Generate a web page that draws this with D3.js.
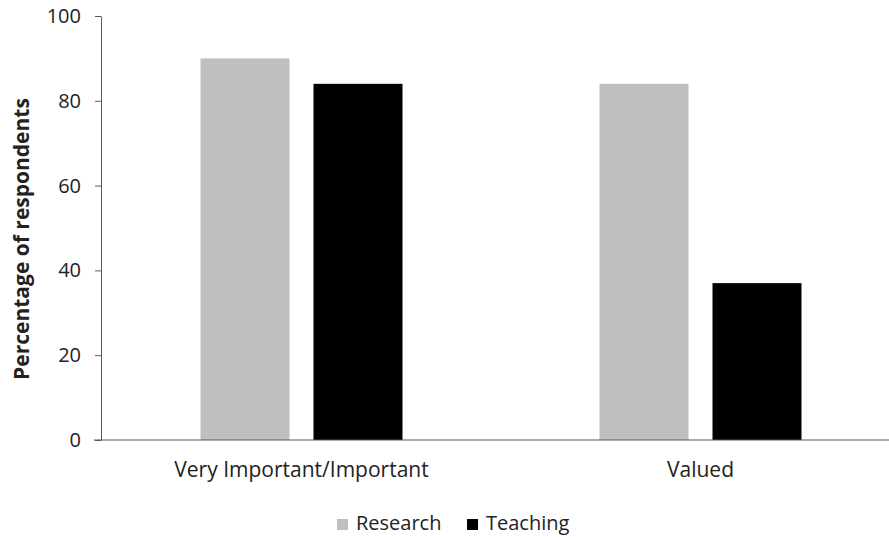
<!DOCTYPE html>
<html>
<head>
  <title>Research vs Teaching</title>
  <style>
    body { margin: 0; background: #fff; }
    svg text { font-family: "Open Sans", sans-serif; fill: #222; }
  </style>
  <script src="https://d3js.org/d3.v7.min.js"></script>
</head>
<body>
  <div id="chart"></div>
  <script>
    // chart data
    var categories = ["Very Important/Important", "Valued"];
    var seriesNames = ["Research", "Teaching"];
    var research = [90, 84];
    var teaching = [84, 37];
    var yTicks = [0, 20, 40, 60, 80, 100];
    var colors = ["#bfbfbf", "#000000"];

    var width = 889, height = 537;
    var svg = d3.select("#chart").append("svg")
      .attr("width", width)
      .attr("height", height);

    var x0 = d3.scaleBand().domain(categories).range([102, 900]).paddingInner(0).paddingOuter(0);
    var x1 = d3.scaleBand().domain(seriesNames).range([-101, 101]).paddingInner(24 / 113).paddingOuter(0);
    var y = d3.scaleLinear().domain([0, 100]).range([440, 16]);

    // y axis
    var yAxis = svg.append("g")
      .attr("transform", "translate(101,0)")
      .call(d3.axisLeft(y).tickValues(yTicks).tickSize(6).tickSizeOuter(0).tickPadding(14));
    yAxis.select(".domain").attr("stroke", "#595959");
    yAxis.selectAll(".tick line").attr("stroke", "#595959");
    yAxis.selectAll(".tick text").style("font-size", "20px").style("font-family", "'Open Sans', sans-serif").attr("fill", "#222");

    // bars
    var rows = categories.map(function(c, i) {
      return { cat: c, values: [research[i], teaching[i]] };
    });
    var groups = svg.selectAll("g.group")
      .data(rows)
      .enter().append("g")
      .attr("class", "group")
      .attr("transform", function(d) { return "translate(" + (x0(d.cat) + x0.bandwidth() / 2) + ",0)"; });
    groups.selectAll("rect")
      .data(function(d) { return d.values.map(function(v, j) { return { s: seriesNames[j], v: v, j: j }; }); })
      .enter().append("rect")
      .attr("x", function(d) { return x1(d.s); })
      .attr("width", x1.bandwidth())
      .attr("y", function(d) { return y(d.v); })
      .attr("height", function(d) { return y(0) - y(d.v); })
      .attr("fill", function(d) { return colors[d.j]; });

    // x axis line
    svg.append("line")
      .attr("x1", 94).attr("x2", 889)
      .attr("y1", y(0)).attr("y2", y(0))
      .attr("stroke", "#595959");

    // category labels
    svg.selectAll("text.cat")
      .data(categories)
      .enter().append("text")
      .attr("class", "cat")
      .attr("x", function(d) { return x0(d) + x0.bandwidth() / 2; })
      .attr("y", 477)
      .attr("text-anchor", "middle")
      .style("font-size", "21px")
      .text(function(d) { return d; });

    // y axis title
    svg.append("text")
      .attr("transform", "translate(29,239) rotate(-90)")
      .attr("text-anchor", "middle")
      .style("font-size", "21px")
      .style("font-weight", "bold")
      .attr("fill", "#000")
      .text("Percentage of respondents");

    // legend
    var legendX = [337, 467];
    var legend = svg.selectAll("g.legend")
      .data(seriesNames)
      .enter().append("g")
      .attr("class", "legend")
      .attr("transform", function(d, i) { return "translate(" + legendX[i] + ",519)"; });
    legend.append("rect")
      .attr("width", 11).attr("height", 11)
      .attr("fill", function(d, i) { return colors[i]; });
    legend.append("text")
      .attr("x", 19).attr("y", 11)
      .style("font-size", "20px")
      .text(function(d) { return d; });
  </script>
</body>
</html>
